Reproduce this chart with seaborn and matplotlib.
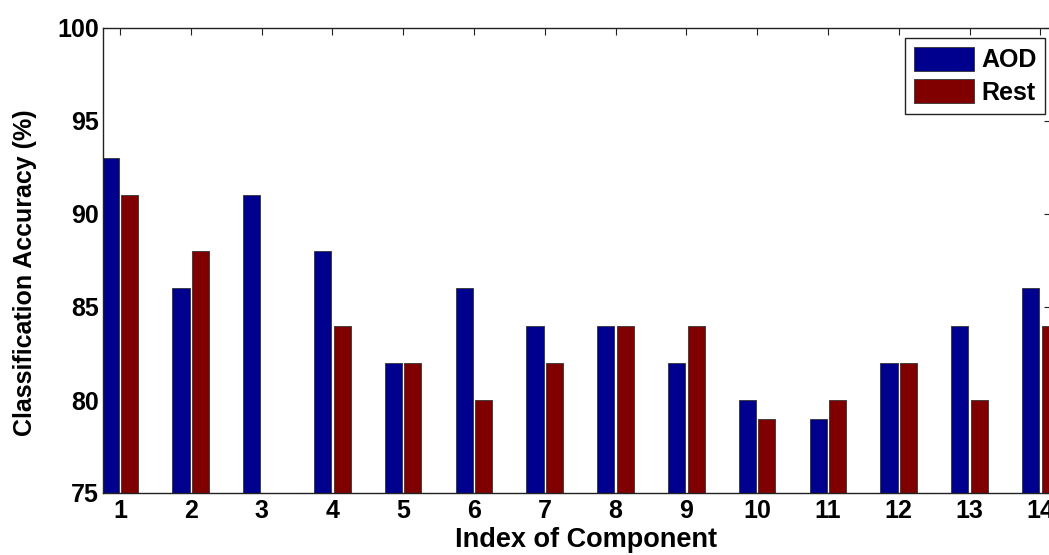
import matplotlib
matplotlib.use("Agg")
import matplotlib.pyplot as plt
import seaborn as sns
import pandas as pd
from matplotlib.patches import Patch

components = [str(i) for i in range(1, 15)]
aod = [93, 86, 91, 88, 82, 86, 84, 84, 82, 80, 79, 82, 84, 86]
rest = [91, 88, 75, 84, 82, 80, 82, 84, 84, 79, 80, 82, 80, 84]
series = ["AOD", "Rest"]
colors = ["#00008F", "#800000"]

df = pd.DataFrame({
    "Component": components * 2,
    "Accuracy": aod + rest,
    "Series": [series[0]] * len(aod) + [series[1]] * len(rest),
})

sns.set_style("white")
plt.rcParams["font.family"] = ["Liberation Sans", "DejaVu Sans"]
plt.rcParams["font.weight"] = "bold"
plt.rcParams["text.color"] = "black"
plt.rcParams["axes.labelcolor"] = "black"

fig = plt.figure(figsize=(10.49, 5.55), dpi=100)
ax = fig.add_axes([103 / 1049, 62 / 555, 948 / 1049, 465 / 555])

sns.barplot(data=df, x="Component", y="Accuracy", hue="Series",
            palette=colors, saturation=1, width=0.55, gap=0.12, ax=ax,
            edgecolor="#333333", linewidth=0.6, legend=False,
            order=components, hue_order=series)

ax.set_ylim(75, 100)
ax.set_xlim(-0.24, 13.15)
ax.set_yticks([75, 80, 85, 90, 95, 100])
ax.tick_params(axis="both", direction="in", length=5, width=0.8,
               top=True, right=True, labelsize=18, colors="#222222",
               labelcolor="black")
ax.tick_params(axis="y", pad=3)
ax.tick_params(axis="x", pad=4)
for lbl in ax.get_xticklabels() + ax.get_yticklabels():
    lbl.set_fontweight("bold")
for s in ax.spines.values():
    s.set_visible(True)
    s.set_color("#222222")
    s.set_linewidth(1.0)

ax.set_xlabel("Index of Component", fontsize=19.5, fontweight="bold", va="center")
ax.set_ylabel("Classification Accuracy (%)", fontsize=18, fontweight="bold", va="center")
ax.xaxis.set_label_coords(0.51, -0.101)
ax.yaxis.set_label_coords(-0.082, 0.473)

handles = [Patch(facecolor=c, edgecolor="#333333", linewidth=0.6) for c in colors]
leg = ax.legend(handles, series, loc="upper left",
                bbox_to_anchor=(905 / 1049, 1 - 38 / 555),
                bbox_transform=fig.transFigure,
                prop={"weight": "bold", "size": 18},
                handlelength=2.4, handleheight=1.1, handletextpad=0.3,
                labelspacing=0.28, borderpad=0.35, fancybox=False,
                framealpha=1, edgecolor="#222222", borderaxespad=0)
leg.get_frame().set_linewidth(1.0)

fig.savefig("out.png", dpi=100)
